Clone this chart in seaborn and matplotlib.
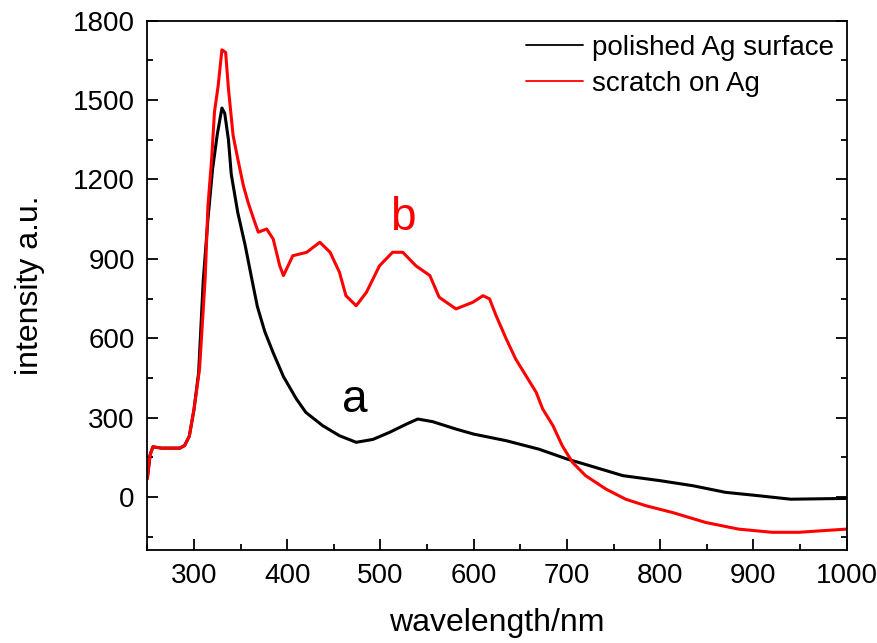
import numpy as np
import pandas as pd
import seaborn as sns
import matplotlib
matplotlib.use("Agg")
import matplotlib.pyplot as plt
from matplotlib.ticker import MultipleLocator

# Emission spectra (wavelength in nm, intensity in a.u.)
wl_polished = [250, 253, 256, 265, 275, 285, 290, 295, 300, 305, 310, 315, 320,
               325, 330, 333, 337, 340, 347, 355, 362, 368, 376, 385, 396, 410,
               420, 438, 456, 474, 492, 510, 528, 540, 556, 581, 600, 635, 670,
               700, 725, 760, 800, 835, 870, 906, 940, 1000]
int_polished = [70, 160, 190, 185, 185, 185, 195, 230, 330, 470, 820, 1050, 1240,
                1370, 1470, 1450, 1350, 1220, 1075, 950, 825, 720, 625, 545, 455,
                370, 320, 270, 232, 207, 218, 245, 276, 295, 285, 257, 238, 213,
                181, 144, 118, 81, 62, 43, 18, 5, -8, -5]

wl_scratch = [250, 253, 256, 265, 275, 285, 290, 295, 300, 306, 312, 315, 319,
              322, 326, 330, 334, 337, 342, 347, 353, 358, 364, 369, 378, 385,
              392, 396, 406, 421, 435, 446, 456, 463, 474, 485, 499, 513, 524,
              538, 553, 563, 581, 599, 610, 617, 624, 635, 645, 656, 667, 674,
              685, 695, 706, 720, 742, 763, 785, 813, 849, 884, 920, 949, 974,
              1000]
int_scratch = [70, 160, 190, 185, 185, 185, 195, 230, 330, 484, 824, 1100, 1278,
               1455, 1555, 1690, 1680, 1543, 1366, 1278, 1177, 1114, 1051, 1001,
               1013, 975, 874, 837, 912, 925, 963, 925, 850, 761, 723, 774, 874,
               925, 925, 874, 837, 755, 711, 736, 761, 749, 686, 597, 522, 459,
               396, 333, 270, 194, 131, 81, 30, -8, -33, -58, -96, -121, -133,
               -133, -127, -121]

series_names = ["polished Ag surface", "scratch on Ag"]
series_colors = ["#000000", "#ff0000"]

df = pd.concat([
    pd.DataFrame({"wavelength": wl_polished, "intensity": int_polished,
                  "sample": series_names[0]}),
    pd.DataFrame({"wavelength": wl_scratch, "intensity": int_scratch,
                  "sample": series_names[1]}),
], ignore_index=True)

sns.set_style("ticks")
plt.rcParams["font.family"] = ["Liberation Sans", "DejaVu Sans"]
plt.rcParams.update({
    "text.color": "black",
    "axes.labelcolor": "black",
    "xtick.color": "black",
    "ytick.color": "black",
    "axes.edgecolor": "black",
})

fig = plt.figure(figsize=(8.78, 6.43), dpi=100)
ax = fig.add_axes([0.1678, 0.1446, 0.7965, 0.8232])

sns.lineplot(data=df, x="wavelength", y="intensity", hue="sample",
             hue_order=series_names, palette=series_colors, linewidth=2.2,
             sort=False, estimator=None, ax=ax)

ax.set_xlim(250, 1000)
ax.set_ylim(-200, 1800)
ax.xaxis.set_major_locator(MultipleLocator(100))
ax.xaxis.set_minor_locator(MultipleLocator(50))
ax.yaxis.set_major_locator(MultipleLocator(300))
ax.yaxis.set_minor_locator(MultipleLocator(150))

ax.tick_params(which="both", direction="in", labelsize=20, width=1.3,
               color="black", labelcolor="black")
ax.tick_params(which="major", length=8, pad=9)
ax.tick_params(which="minor", length=4.5)
ax.tick_params(axis="y", which="both", right=True)
ax.tick_params(axis="y", which="both", labelright=False)

for side in ["left", "right", "top", "bottom"]:
    ax.spines[side].set_visible(True)
    ax.spines[side].set_linewidth(1.3)
    ax.spines[side].set_color("black")

ax.set_xlabel("wavelength/nm", fontsize=23, labelpad=14, color="black")
ax.set_ylabel("intensity a.u.", fontsize=23, labelpad=20, color="black")

ax.text(472, 323, "a", fontsize=33, color="black", ha="center", va="baseline")
ax.text(524, 1011, "b", fontsize=33, color="red", ha="center", va="baseline")

leg = ax.legend(loc="upper left", bbox_to_anchor=(526 / 878, 1 - 35 / 643),
                bbox_transform=fig.transFigure, frameon=False, fontsize=20,
                handlelength=2.05, handletextpad=0.32, labelspacing=0.35,
                borderpad=0, borderaxespad=0)
for line in leg.get_lines():
    line.set_linewidth(1.3)
for t in leg.get_texts():
    t.set_color("black")

fig.savefig("out.png", dpi=100)
